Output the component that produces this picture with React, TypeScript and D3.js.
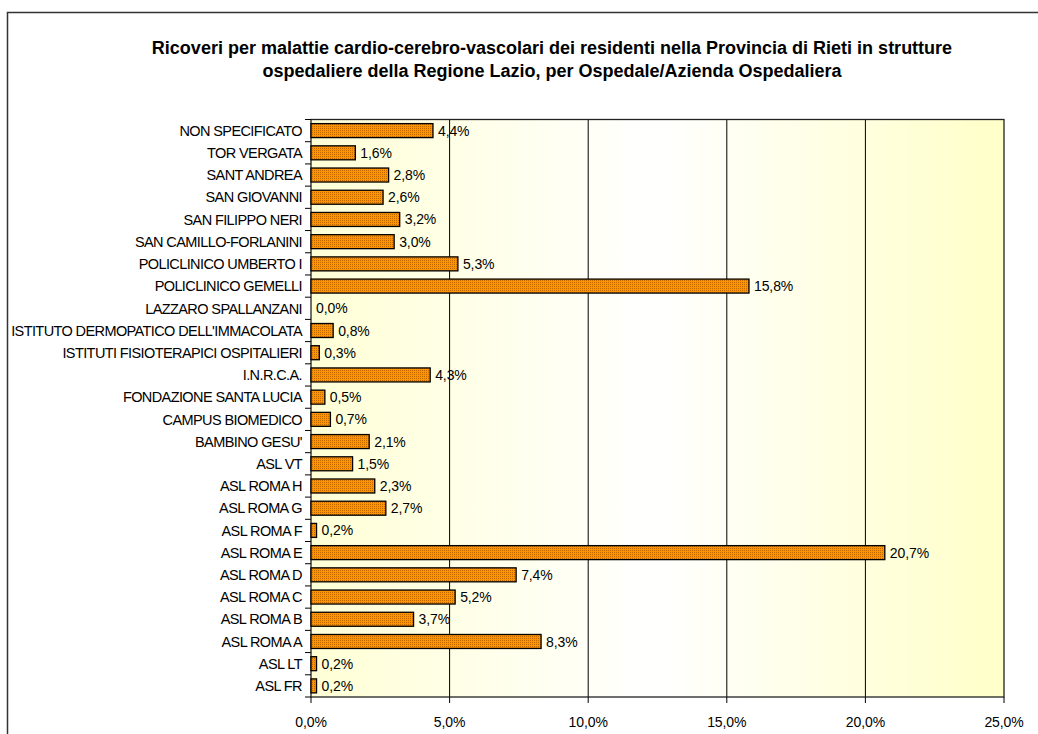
import React from "react";
import * as d3 from "d3";

const categories = [
  "NON SPECIFICATO",
  "TOR VERGATA",
  "SANT ANDREA",
  "SAN GIOVANNI",
  "SAN FILIPPO NERI",
  "SAN CAMILLO-FORLANINI",
  "POLICLINICO UMBERTO I",
  "POLICLINICO GEMELLI",
  "LAZZARO SPALLANZANI",
  "ISTITUTO DERMOPATICO DELL'IMMACOLATA",
  "ISTITUTI FISIOTERAPICI OSPITALIERI",
  "I.N.R.C.A.",
  "FONDAZIONE SANTA LUCIA",
  "CAMPUS BIOMEDICO",
  "BAMBINO GESU'",
  "ASL VT",
  "ASL ROMA H",
  "ASL ROMA G",
  "ASL ROMA F",
  "ASL ROMA E",
  "ASL ROMA D",
  "ASL ROMA C",
  "ASL ROMA B",
  "ASL ROMA A ",
  "ASL LT",
  "ASL FR"
];

const values = [
  4.4, 1.6, 2.8, 2.6, 3.2, 3.0, 5.3, 15.8, 0.0, 0.8, 0.3, 4.3, 0.5, 0.7, 2.1,
  1.5, 2.3, 2.7, 0.2, 20.7, 7.4, 5.2, 3.7, 8.3, 0.2, 0.2
];

const xTicks = [0, 5, 10, 15, 20, 25];

const titleLines = [
  "Ricoveri per malattie cardio-cerebro-vascolari dei residenti nella Provincia di Rieti in strutture",
  "ospedaliere della Regione Lazio, per Ospedale/Azienda Ospedaliera"
];

const W = 1038;
const H = 734;
const plot = { left: 311, right: 1004, top: 119.5, bottom: 697 };
const font = "'Liberation Sans', Arial, sans-serif";

const fmt = (v: number) => v.toFixed(1).replace(".", ",") + "%";

export default function App() {
  const x = d3.scaleLinear().domain([0, 25]).range([plot.left, plot.right]);
  const y = d3
    .scaleBand<string>()
    .domain(categories)
    .range([plot.top, plot.bottom])
    .paddingInner(0.37)
    .paddingOuter(0.185);
  const step = y.step();
  // band boundaries for the category tick marks
  const boundaries = d3.range(categories.length + 1).map(i => plot.top + i * step);

  return (
    <svg
      width={W}
      height={H}
      style={{ position: "absolute", left: 0, top: 0 }}
      fontFamily={font}
    >
      <defs>
        <linearGradient id="bg" x1="0" x2="1" y1="0" y2="0">
          <stop offset="0" stopColor="#ffffd6" />
          <stop offset="0.5" stopColor="#ffffff" />
          <stop offset="1" stopColor="#ffffc8" />
        </linearGradient>
        <pattern id="dots" width="2" height="2" patternUnits="userSpaceOnUse">
          <rect width="2" height="2" fill="#ff9400" />
          <rect width="1" height="1" fill="#c46800" />
        </pattern>
      </defs>
      <rect x={0} y={0} width={W} height={H} fill="#fff" />
      <rect
        x={7.5}
        y={12.5}
        width={W + 20}
        height={H + 20}
        fill="#fff"
        stroke="#333"
        strokeWidth={1.5}
      />

      {titleLines.map((t, i) => (
        <text
          key={i}
          x={552}
          y={54 + i * 23}
          textAnchor="middle"
          fontSize={18}
          fontWeight="bold"
          fill="#000"
        >
          {t}
        </text>
      ))}

      <rect
        x={plot.left}
        y={plot.top}
        width={plot.right - plot.left}
        height={plot.bottom - plot.top}
        fill="url(#bg)"
      />
      {xTicks.slice(1, -1).map(t => (
        <line
          key={t}
          x1={x(t)}
          x2={x(t)}
          y1={plot.top}
          y2={plot.bottom}
          stroke="#000"
          strokeWidth={1}
        />
      ))}
      <rect
        x={plot.left}
        y={plot.top}
        width={plot.right - plot.left}
        height={plot.bottom - plot.top}
        fill="none"
        stroke="#222"
        strokeWidth={1.3}
      />

      {categories.map((c, i) => (
        <g key={c}>
          <rect
            x={x(0)}
            y={y(c)}
            width={x(values[i]) - x(0)}
            height={y.bandwidth()}
            fill="url(#dots)"
            stroke="#000"
            strokeWidth={values[i] > 0 ? 1.3 : 0}
          />
          <text
            x={x(values[i]) + 5}
            y={(y(c) as number) + y.bandwidth() / 2}
            dy="0.36em"
            fontSize={14}
            letterSpacing={-0.1}
            fill="#000"
          >
            {fmt(values[i])}
          </text>
          <text
            x={302}
            y={(y(c) as number) + y.bandwidth() / 2}
            dy="0.36em"
            textAnchor="end"
            fontSize={14.5}
            letterSpacing={-0.6}
            fill="#000"
          >
            {c}
          </text>
        </g>
      ))}

      {boundaries.map((b, i) => (
        <line key={i} x1={305} x2={plot.left} y1={b} y2={b} stroke="#000" />
      ))}

      {xTicks.map(t => (
        <g key={t}>
          <line x1={x(t)} x2={x(t)} y1={plot.bottom} y2={plot.bottom + 6} stroke="#000" />
          <text x={x(t)} y={727} textAnchor="middle" fontSize={14} letterSpacing={-0.1} fill="#000">
            {fmt(t)}
          </text>
        </g>
      ))}
    </svg>
  );
}
